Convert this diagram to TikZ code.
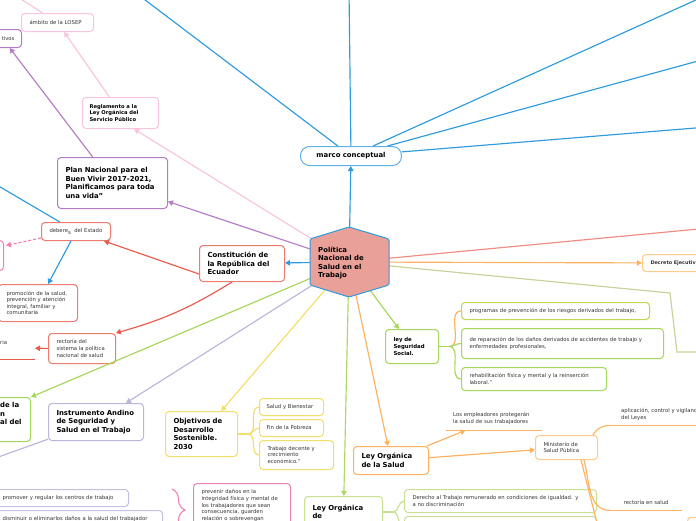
\documentclass[tikz,border=0pt]{standalone}
\usepackage{fontspec}
\setmainfont{DejaVu Sans}
\usetikzlibrary{arrows.meta,calc,decorations.pathreplacing}
\definecolor{cBlue}{HTML}{2E9BDC}
\definecolor{cBlueL}{HTML}{5DB2E8}
\definecolor{cHex}{HTML}{E8A098}
\definecolor{cPurple}{HTML}{B47CC2}
\definecolor{cPink}{HTML}{F9C4DD}
\definecolor{cPinkB}{HTML}{F080B2}
\definecolor{cRed}{HTML}{EA5A4C}
\definecolor{cRedB}{HTML}{EE7B70}
\definecolor{cGreen}{HTML}{A6D65A}
\definecolor{cLGreen}{HTML}{CBDF95}
\definecolor{cProg}{HTML}{C3D550}
\definecolor{cLav}{HTML}{BCB5DC}
\definecolor{cLavB}{HTML}{C5BFE3}
\definecolor{cYel}{HTML}{F1DE6C}
\definecolor{cOr}{HTML}{FDB25F}
\definecolor{cOrB}{HTML}{FDCB8C}
\definecolor{cOlive}{HTML}{C8D197}
\definecolor{cTxt}{HTML}{333333}
\newcommand\fsm{\fontsize{5.3}{6.6}\selectfont}
\newcommand\fbt{\bfseries\fontsize{6.9}{8.4}\selectfont}
\newcommand\fbs{\bfseries\fontsize{5.2}{6.6}\selectfont}
\newcommand\fls{\bfseries\fontsize{5.4}{6.7}\selectfont}
\newcommand\flg{\bfseries\fontsize{6.9}{9}\selectfont}
\newcommand\fdc{\bfseries\fontsize{4.9}{6}\selectfont}
\begin{document}
\begin{tikzpicture}[x=1pt,y=-1pt,
  tbox/.style={draw, fill=white, rounded corners=3.5pt, line width=1pt, inner xsep=8pt, inner ysep=0pt, anchor=north west, align=left, text=cTxt},
  ubox/.style={inner xsep=7pt, inner ysep=0pt, anchor=north west, align=left, text=cTxt},
  con/.style={line width=1.15pt},
  arr/.style={con, -{Triangle[length=5pt,width=5.5pt]}},
  trunk/.style={line width=1.8pt}]
\useasboundingbox (0,0) rectangle (696,520);
\clip (0,0) rectangle (696,520);
\fill[white] (0,0) rectangle (696,520);

% ---------- nodes ----------
\node[minimum width=78pt, minimum height=70pt, inner sep=0pt] (hex) at (349,262) {};
\node[tbox, draw=cBlueL, rounded corners=9pt, inner xsep=0pt, minimum width=101pt, minimum height=19pt, align=center, font=\fbt, text=black] (marco) at (300,146) {marco conceptual};

\node[tbox, draw=cPurple, text width=94pt, minimum height=51pt, font=\fbt, text=black] (plan) at (57,157) {Plan Nacional para el\\Buen Vivir 2017-2021,\\Planificamos para toda\\una vida"};
\node[tbox, draw=cPink, inner xsep=7pt, text width=62pt, minimum height=31pt, font=\fbs, text=black] (regl) at (82,97) {Reglamento a la\\Ley Orgánica del\\Servicio Público};
\node[tbox, draw=cPink, text width=56pt, minimum height=18pt, font=\fsm] (ambito) at (21,13) {\mbox{ámbito de la LOSEP}};
\node[tbox, draw=cPurple, inner xsep=7pt, text width=24pt, minimum height=18pt, align=right, font=\fsm] (tivos) at (-17,29) {tivos};

\node[tbox, draw=cRedB, text width=69pt, minimum height=36pt, font=\fbt, text=black] (const) at (199,245) {Constitución de\\la República del\\Ecuador};
\node[tbox, draw=cRedB, text width=53pt, minimum height=18pt, font=\fsm] (deberes) at (41,222) {\mbox{debere\raisebox{-1.2pt}{s}\ \ del Estado}};
\node[tbox, draw=cPinkB, minimum width=23pt, minimum height=30pt, inner sep=0pt] (pinkL) at (-20,240) {};
\node[tbox, draw=cRedB, text width=63pt, minimum height=37pt, font=\fsm] (promo) at (-2,284) {promoción de la salud,\\prevención y atención\\integral, familiar y\\comunitaria};
\node[tbox, draw=cRedB, text width=51pt, minimum height=30pt, font=\fsm] (rect) at (48,333) {rectoría del\\sistema la política\\nacional de salud};
\node[minimum width=36pt, minimum height=22pt, inner sep=0pt, anchor=north east] (ria) at (35,337) {};
\node[anchor=west, inner sep=0pt, font=\fsm, text=cTxt] (riat) at (0,343) {ria};

\node[tbox, draw=cGreen, minimum width=70pt, minimum height=44pt, inner sep=0pt] (gL) at (-40,397) {};
\node[anchor=north west, inner sep=0pt, font=\fbt, align=left, text=black] (gLt) at (0,402.5) {de la\\n\\al del};
\node[tbox, draw=cLav, text width=79pt, minimum height=37pt, font=\fbt, text=black] (instr) at (48,403) {Instrumento Andino\\de Seguridad y\\Salud en el Trabajo};

\node[tbox, draw=cYel, text width=56pt, minimum height=45pt, font=\fbt, text=black] (ods) at (165,411) {Objetivos de\\Desarrollo\\Sostenible.\\2030};
\node[tbox, draw=cYel, inner xsep=7pt, text width=50pt, minimum height=17pt, font=\fsm] (salud) at (259,398) {\mbox{Salud y Bienestar}};
\node[tbox, draw=cYel, inner xsep=7pt, text width=50pt, minimum height=17pt, font=\fsm] (fin) at (259,419) {\mbox{Fin de la Pobreza}};
\node[tbox, draw=cYel, text width=58pt, minimum height=29pt, font=\fsm] (trab) at (259,440) {Trabajo decente y\\crecimiento\\económico."};

\node[tbox, draw=cGreen, text width=37pt, minimum height=34pt, font=\fls, text=black] (ls) at (385,329) {ley de\\Seguridad\\Social.};
\node[tbox, draw=cProg, text width=172pt, minimum height=17pt, font=\fsm] (prog) at (461,302) {\mbox{programas de prevención de los riesgos derivados del trabajo,}};
\node[tbox, draw=cGreen, text width=186pt, minimum height=30pt, font=\fsm] (repar) at (461,328) {de reparación de los daños derivados de accidentes de trabajo y\\enfermedades profesionales,\\[5pt]};
\node[tbox, draw=cGreen, text width=129pt, minimum height=23pt, font=\fsm] (rehab) at (461,367) {rehabilitación física y mental y la reinserción\\laboral."};

\node[tbox, draw=cOrB, text width=44pt, minimum height=17pt, font=\fdc] (decreto) at (642,254) {\mbox{Decreto Ejecutivo}};

\node[tbox, draw=cOr, text width=59pt, minimum height=28pt, font=\flg, text=black] (lsalud) at (353,446) {Ley Orgánica\\de la Salud};
\node[ubox, text width=82pt, minimum height=23pt, font=\fsm] (emp) at (446,407) {Los empleadores protegerán\\la salud de sus trabajadores};
\node[tbox, draw=cOrB, text width=46pt, minimum height=24pt, font=\fsm] (minis) at (535,435) {Ministerio de\\Salud Pública};
\node[ubox, inner xsep=11pt, text width=110pt, minimum height=22pt, font=\fsm] (aplic) at (610,403) {aplicación, control y vigilancia\\del Leyes};
\node[ubox, inner xsep=0pt, minimum width=72pt, minimum height=16pt, align=center, font=\fsm] (rsalud) at (610,494) {rectoría en salud};
\node[tbox, draw=cOrB, minimum width=60pt, minimum height=30pt, inner sep=0pt] (obr) at (687,517) {};

\node[tbox, draw=cLGreen, text width=62pt, minimum height=31pt, font=\fbt, text=black] (lod) at (304,496) {Ley Orgánica\\de};
\node[tbox, draw=cLGreen, text width=176pt, minimum height=23pt, font=\fsm] (der1) at (404,489) {Derecho al Trabajo remunerado en condiciones de igualdad. y\\a no discriminación};
\node[tbox, draw=cLGreen, minimum width=192pt, minimum height=20pt, inner sep=0pt] (der2) at (404,516) {};

\node[tbox, draw=cPinkB, text width=81pt, minimum height=44pt, font=\fsm] (prev) at (193,483) {prevenir daños en la\\integridad física y mental de\\los trabajadores que sean\\consecuencia, guarden\\relación o sobrevengan};
\node[tbox, draw=cLavB, text width=118pt, minimum height=17pt, font=\fsm] (promov) at (-6,489) {\mbox{promover y regular los centros de trabajo}};
\node[tbox, draw=cLavB, text width=152pt, minimum height=16pt, font=\fsm] (dismin) at (-6,510) {\mbox{disminuir o eliminarlos daños a la salud del trabajador}};

% ---------- off-canvas coordinates ----------
\coordinate (oB1) at (132,-10);
\coordinate (oB2) at (349,-10);
\coordinate (oB3) at (718,-10);
\coordinate (oB4) at (720,55);
\coordinate (oB5) at (720,126);
\coordinate (oB6) at (-10,181);
\coordinate (oPk) at (13,-6);
\coordinate (oLav) at (-10,460);
\coordinate (oR) at (720,227);
\coordinate (olv1) at (670,293);
\coordinate (olv2) at (677,352);
\coordinate (olv3) at (720,352);
\coordinate (oMin) at (600,535);

% ---------- connectors ----------
\draw[con, cBlue] (marco) -- (oB1);
\draw[con, cBlue] (marco) -- (oB2);
\draw[con, cBlue] (marco) -- (oB3);
\draw[con, cBlue] (marco) -- (oB4);
\draw[con, cBlue] (marco) -- (oB5);
\draw[arr, cBlue] (hex.center) -- (marco);
\draw[arr, cBlue] (hex.center) -- (const);

\draw[arr, cPurple] (hex.center) -- (plan);
\draw[arr, cPurple] (plan) -- (tivos);
\draw[arr, cPink] (hex.center) -- ($(regl.south east)+(-25,0)$);
\draw[arr, cPink] (regl) -- (ambito);
\draw[con, cPink] (ambito) -- (oPk);

\draw[con, cBlue] (oB6) -- (deberes);
\draw[arr, cBlue] (deberes) -- (promo);
\draw[arr, cRed] ($(const.south west)+(0,-8)$) -- ($(deberes.south east)+(-7,0)$);
\draw[arr, cRed] ($(const.south)+(-10,0)$) to[bend left=8] (rect.north east);
\draw[arr, cPinkB, dashed, dash pattern=on 3pt off 2pt] ($(deberes.south west)+(0,-3)$) -- ($(pinkL.east)+(2,-10)$);
\draw[arr, cRed] (rect) -- (ria);
\draw[con, cRed] (ria.south west) -- (ria.south east);

\draw[arr, cGreen] (hex.center) -- (gL.north east);
\draw[arr, cLav] (hex.center) -- (instr);
\draw[con, cLav] (instr) -- (oLav);
\draw[arr, cYel] (hex.center) -- (ods);
\draw[trunk, cYel] (ods.east) -- ++(10,0) coordinate (odsJ);
\draw[con, cYel] (odsJ) to[out=0,in=180] (salud.west);
\draw[con, cYel] (odsJ) to[out=0,in=180] (fin.west);
\draw[con, cYel] (odsJ) to[out=0,in=180] (trab.west);

\draw[arr, cGreen] (hex.center) -- (ls);
\draw[trunk, cGreen] (ls.east) -- ++(10,0) coordinate (lsJ);
\draw[con, cOr] (lsJ) to[out=0,in=180] (prog.west);
\draw[con, cGreen] (lsJ) to[out=0,in=180] (repar.west);
\draw[con, cGreen] (lsJ) to[out=0,in=180] (rehab.west);

\draw[arr, cGreen!80!cLGreen] (hex.center) -- (lod);
\draw[trunk, cLGreen] (lod.east) -- ++(10,0) coordinate (lodJ);
\draw[con, cLGreen] (lodJ) to[out=0,in=180] (der1.west);
\draw[con, cLGreen] (lodJ) to[out=0,in=180] (der2.west);

\draw[arr, cOr] (hex.center) -- (lsalud);
\draw[arr, cOr] (lsalud) -- (emp);
\draw[con, cOr] (emp.south west) -- (emp.south east);
\draw[arr, cOr] (lsalud) -- (minis);
\draw[con, cOr] ($(minis.north east)+(-5,0)$) to[out=60,in=180] (aplic.south west);
\draw[con, cOr] (aplic.south west) -- (aplic.south east);
\draw[con, cOr] ($(minis.south east)+(-14,0)$) to[out=-75,in=180] (rsalud.south west);
\draw[con, cOr] (rsalud.south west) -- (rsalud.south east);
\draw[con, cOr] ($(minis.south east)+(-17,0)$) -- (oMin);

\draw[arr, cOr] (hex.center) -- (decreto);
\draw[con, cRed!70!white] (hex.center) -- (oR);
\draw[con, cOlive] (hex.center) -- (olv1) -- (olv2) -- (olv3);

\draw[cPinkB, line width=1.1pt, decorate, decoration={brace, amplitude=13pt}] (172,489) -- (172,531);

% ---------- central hexagon ----------
\filldraw[fill=cHex, draw=cBlue, line width=1pt, rounded corners=1.5pt]
  (349,227) -- (389,239) -- (389,285) -- (349,297) -- (310,285) -- (310,239) -- cycle;
\node[anchor=west, inner sep=0pt, align=left, font=\fbt, text=black] (hext) at (318,263) {Política\\Nacional de\\Salud en el\\Trabajo};
\end{tikzpicture}
\end{document}
